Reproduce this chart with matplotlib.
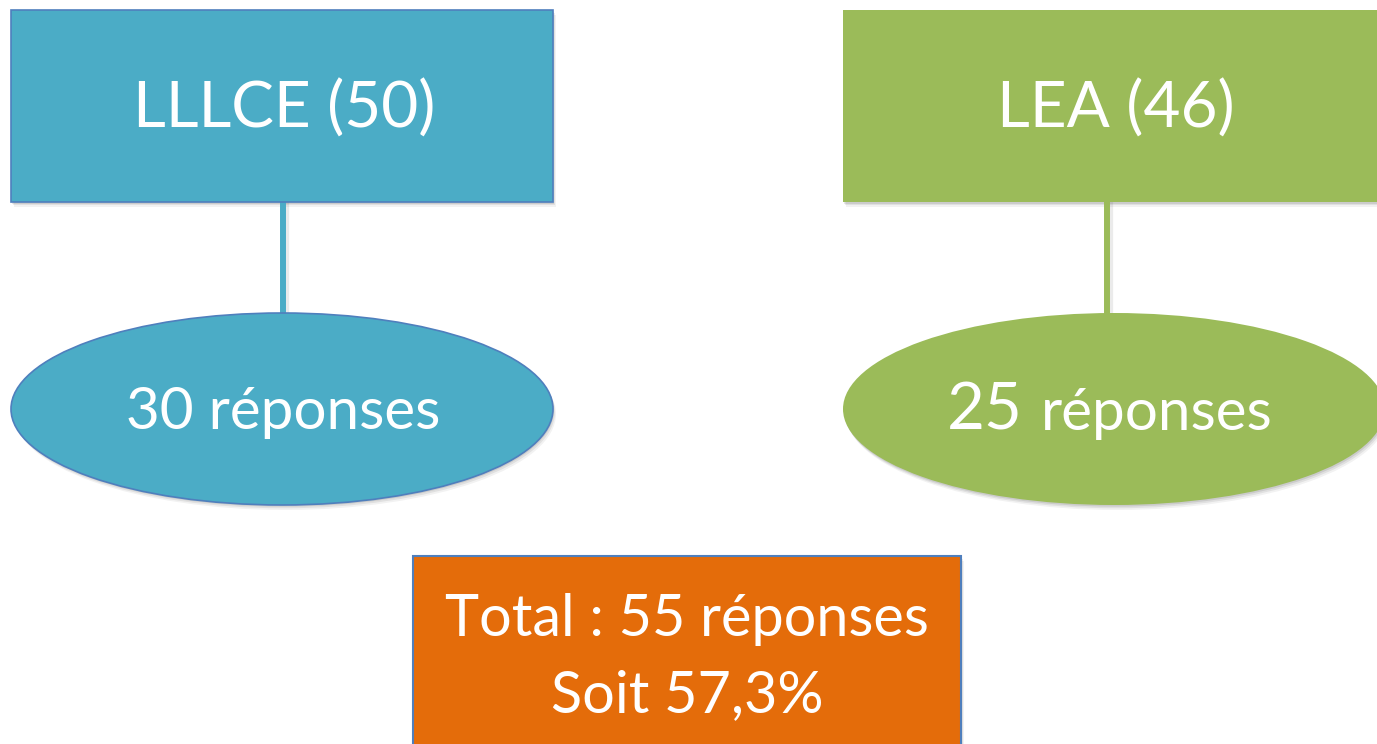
import matplotlib.pyplot as plt
from matplotlib.patches import Rectangle, Ellipse

# filieres et effectifs
filieres = ['LLLCE', 'LEA']
effectifs = [50, 46]
reponses = [30, 25]
total = 55
pourcent = '57,3%'

couleurs = ['#4bacc6', '#9bbb59']
bordures = ['#4f7fbd', 'none']
total_color = '#e46c0a'

plt.rcParams['font.family'] = ['Lato', 'DejaVu Sans']

fig = plt.figure(figsize=(13.77, 7.44), dpi=100)
ax = fig.add_axes([0, 0, 1, 1])
ax.set_xlim(0, 1377)
ax.set_ylim(744, 0)
ax.axis('off')


def ombre(patch_fn, dx=3, dy=5):
    # petite ombre portee floue
    for k, a in zip([1.0, 0.66, 0.33], [0.05, 0.07, 0.09]):
        p = patch_fn(dx * k, dy * k)
        p.set_facecolor('black')
        p.set_edgecolor('none')
        p.set_alpha(a)
        p.set_zorder(1)
        ax.add_patch(p)


# colonnes : rectangle, trait, ellipse
x_left = [11, 843]
cx = [283, 1107]
w = 542

for i in range(len(filieres)):
    x0 = x_left[i]
    c = x0 + w / 2

    # trait
    ax.plot([cx[i] + 2, cx[i] + 2], [202, 316], color='black', alpha=0.08,
            lw=6, solid_capstyle='butt', zorder=1)
    ax.plot([cx[i], cx[i]], [202, 314], color=couleurs[i], lw=4.3,
            solid_capstyle='butt', zorder=2)

    # rectangle
    ombre(lambda dx, dy: Rectangle((x0 + dx, 10 + dy), w, 192))
    ax.add_patch(Rectangle((x0, 10), w, 192, facecolor=couleurs[i],
                           edgecolor=bordures[i], lw=1.2, zorder=3))
    ax.text(c + 2, 109, f'{filieres[i]} ({effectifs[i]})', color='white',
            fontsize=46, ha='center', va='center', zorder=4)

    # ellipse
    ombre(lambda dx, dy: Ellipse((c + dx, 409 + dy), w, 192))
    ax.add_patch(Ellipse((c, 409), w, 192, facecolor=couleurs[i],
                         edgecolor=bordures[i], lw=1.2, zorder=3))

# textes des ellipses
ax.text(283, 429, f'{reponses[0]} réponses', color='white', fontsize=42,
        ha='center', va='baseline', zorder=4)
ax.text(1023, 430, f'{reponses[1]}', color='white', fontsize=47,
        ha='right', va='baseline', zorder=4)
ax.text(1041, 430, 'réponses', color='white', fontsize=42,
        ha='left', va='baseline', zorder=4)

# total
ombre(lambda dx, dy: Rectangle((413 + dx, 556 + dy), 548, 200))
ax.add_patch(Rectangle((413, 556), 548, 200, facecolor=total_color,
                       edgecolor='#4f7fbd', lw=1.5, zorder=3))
ax.text(687, 619, f'Total : {total} réponses', color='white', fontsize=41.5,
        ha='center', va='center', zorder=4)
ax.text(687, 696, f'Soit {pourcent}', color='white', fontsize=41.5,
        ha='center', va='center', zorder=4)

fig.savefig('out.png', dpi=100)
